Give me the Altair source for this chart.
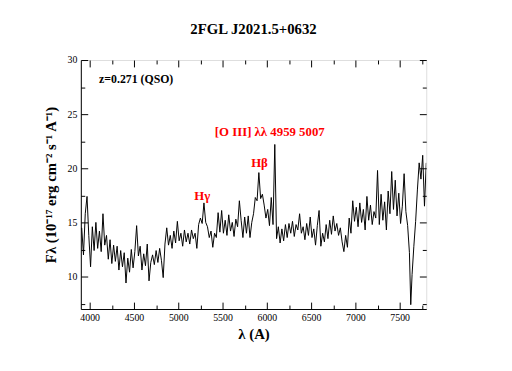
import altair as alt
import pandas as pd

lam = [3910, 3930, 3950, 3970, 3990, 4010, 4030, 4050, 4070, 4090,
       4110, 4130, 4150, 4170, 4190, 4210, 4230, 4250, 4270, 4290,
       4310, 4330, 4350, 4370, 4390, 4410, 4430, 4450, 4470, 4490,
       4510, 4530, 4550, 4570, 4590, 4610, 4630, 4650, 4670, 4690,
       4710, 4730, 4750, 4770, 4790, 4810, 4830, 4850, 4870, 4890,
       4910, 4930, 4950, 4970, 4990, 5010, 5030, 5050, 5070, 5090,
       5110, 5130, 5150, 5170, 5190, 5210, 5230, 5250, 5270, 5290,
       5310, 5330, 5350, 5370, 5390, 5410, 5430, 5450, 5470, 5490,
       5510, 5530, 5550, 5570, 5590, 5610, 5630, 5650, 5670, 5690,
       5710, 5730, 5750, 5770, 5790, 5810, 5830, 5850, 5870, 5890,
       5910, 5930, 5950, 5970, 5990, 6010, 6030, 6050, 6070, 6090,
       6110, 6130, 6150, 6170, 6190, 6210, 6230, 6250, 6270, 6290,
       6310, 6330, 6350, 6370, 6390, 6410, 6430, 6450, 6470, 6490,
       6510, 6530, 6550, 6570, 6590, 6610, 6630, 6650, 6670, 6690,
       6710, 6730, 6750, 6770, 6790, 6810, 6830, 6850, 6870, 6890,
       6910, 6930, 6950, 6970, 6990, 7010, 7030, 7050, 7070, 7090,
       7110, 7130, 7150, 7170, 7190, 7210, 7230, 7250, 7270, 7290,
       7310, 7330, 7350, 7370, 7390, 7410, 7430, 7450, 7470, 7490,
       7510, 7530, 7550, 7570, 7590, 7610, 7625, 7640, 7660, 7680,
       7700, 7720, 7740, 7760, 7780, 7800]

flux = [14.5, 12.0, 15.8, 17.4, 13.8, 10.9, 14.6, 12.4, 15.0, 12.6,
        14.2, 12.3, 15.8, 12.9, 13.8, 11.6, 13.4, 11.2, 12.9, 11.4,
        12.8, 10.6, 12.4, 10.9, 12.2, 9.4, 11.7, 10.4, 12.5, 10.8,
        12.3, 14.7, 11.9, 12.8, 10.6, 12.1, 11.0, 13.0, 9.6, 11.3,
        12.0, 11.1, 12.4, 11.3, 12.6, 11.5, 9.9, 13.0, 14.5, 12.9,
        13.8, 12.6, 14.2, 13.1, 15.1, 13.3, 14.0, 12.8, 14.3, 13.2,
        14.0, 13.0, 14.3, 13.5, 14.0, 12.6, 14.8, 15.4, 14.9, 16.8,
        15.0, 14.6, 13.6, 14.2, 12.7, 14.0, 13.6, 15.9, 14.1, 16.1,
        14.0, 15.2, 13.8, 15.7, 14.2, 15.0, 13.7, 15.3, 14.6, 17.0,
        15.2, 13.6, 15.5, 14.0, 15.6, 13.6, 15.0, 15.8, 17.3, 17.0,
        19.6, 17.2, 17.6, 16.6, 15.4, 16.2, 14.7, 17.3, 14.8, 22.2,
        13.5, 14.6, 13.1, 14.4, 13.3, 14.8, 13.6, 14.9, 14.0, 15.1,
        13.7, 14.8, 14.3, 15.8, 14.0, 14.6, 13.4, 14.9, 13.8, 15.5,
        13.6, 14.4, 12.9, 14.7, 16.1, 12.8, 14.0, 13.2, 14.8, 13.5,
        15.2, 13.9, 15.6, 14.2, 14.9, 13.8, 14.5, 13.2, 12.3, 13.8,
        12.7, 15.4, 14.0, 17.0, 15.1, 16.4, 14.6, 16.8, 15.0, 16.2,
        14.3, 17.4, 15.2, 16.6, 14.8, 16.0, 15.4, 19.8, 14.8, 17.6,
        15.2, 16.9, 14.3, 17.9, 15.8, 19.7, 16.2, 18.9, 15.6, 17.7,
        14.9, 16.5, 19.5, 16.0, 14.7, 12.2, 7.4, 10.2, 12.8, 15.1,
        18.0, 20.5, 19.0, 21.2, 16.5, 20.5]

x_major = [4000, 4500, 5000, 5500, 6000, 6500, 7000, 7500]
x_minor = [4250, 4750, 5250, 5750, 6250, 6750, 7250, 7750]
y_major = [10, 15, 20, 25, 30]
y_minor = [7.5, 12.5, 17.5, 22.5, 27.5]

ann_text = ["H\u03b3", "H\u03b2", "[O III] \u03bb\u03bb 4959 5007"]
ann_lam = [5270, 5917, 6033]
ann_flux = [17.4, 20.5, 23.3]

z_text = ["z=0.271 (QSO)"]
z_lam = [4106]
z_flux = [28.2]

df = pd.DataFrame({"lam": lam, "flux": flux})
ann = pd.DataFrame({"t": ann_text, "lam": ann_lam, "flux": ann_flux})
zdf = pd.DataFrame({"t": z_text, "lam": z_lam, "flux": z_flux})

XD = [3900, 7800]
YD = [7, 30]
FONT = "Liberation Serif"

xs = alt.Scale(domain=XD, nice=False, zero=False)
ys = alt.Scale(domain=YD, nice=False, zero=False)

main = alt.Chart(df).mark_line(color="black", strokeWidth=1, clip=True).encode(
    x=alt.X("lam:Q", scale=xs, axis=alt.Axis(
        orient="bottom", values=x_major, format="d", ticks=False, grid=False,
        title="\u03bb (A)", labelPadding=4, titlePadding=4,
        domainColor="black", labelFont=FONT, labelFontSize=10,
        labelColor="black", titleFont=FONT, titleFontSize=15,
        titleFontWeight="bold", titleColor="black")),
    y=alt.Y("flux:Q", scale=ys, axis=alt.Axis(
        orient="left", values=y_major, format="d", ticks=False, grid=False,
        title="F\u03bb (10\u207b\u00b9\u2077 erg cm\u207b\u00b2 s\u207b\u00b9 A\u207b\u00b9)",
        labelPadding=4, titlePadding=9,
        domainColor="black", labelFont=FONT, labelFontSize=10,
        labelColor="black", titleFont=FONT, titleFontSize=15,
        titleFontWeight="bold", titleColor="black")),
)


def tick_layer(xorient, yorient, xv, yv, size):
    return alt.Chart(df).mark_line(opacity=0).encode(
        x=alt.X("lam:Q", scale=xs, axis=alt.Axis(
            orient=xorient, values=xv, offset=-size, tickSize=size,
            labels=False, domain=False, grid=False, title=None,
            tickColor="black", tickWidth=1)),
        y=alt.Y("flux:Q", scale=ys, axis=alt.Axis(
            orient=yorient, values=yv, offset=-size, tickSize=size,
            labels=False, domain=False, grid=False, title=None,
            tickColor="black", tickWidth=1)),
    )


t1 = tick_layer("bottom", "left", x_major, y_major, 7)
t2 = tick_layer("top", "right", x_major, y_major, 7)
t3 = tick_layer("bottom", "left", x_minor, y_minor, 4)
t4 = tick_layer("top", "right", x_minor, y_minor, 4)

labels = alt.Chart(ann).mark_text(
    color="red", font=FONT, fontSize=13, fontWeight="bold", align="center",
    baseline="middle").encode(
    x=alt.X("lam:Q", scale=xs, axis=None),
    y=alt.Y("flux:Q", scale=ys, axis=None),
    text="t:N")

zlab = alt.Chart(zdf).mark_text(
    color="black", font=FONT, fontSize=12, fontWeight="bold", align="left",
    baseline="middle").encode(
    x=alt.X("lam:Q", scale=xs, axis=None),
    y=alt.Y("flux:Q", scale=ys, axis=None),
    text="t:N")

chart = alt.layer(main, t1, t2, t3, t4, labels, zlab).resolve_axis(
    x="independent", y="independent"
).properties(
    width=351, height=253,
    title=alt.Title("2FGL J2021.5+0632", font=FONT, fontSize=15,
                    fontWeight="bold", color="black", anchor="middle",
                    offset=18),
    autosize=alt.AutoSizeParams(type="none"),
    padding={"left": 74, "top": 50, "right": 79, "bottom": 52},
).configure_view(stroke="#555555", strokeWidth=1).configure(background="white")

chart.save("out.html", embed_options={"renderer": "svg", "actions": False})
